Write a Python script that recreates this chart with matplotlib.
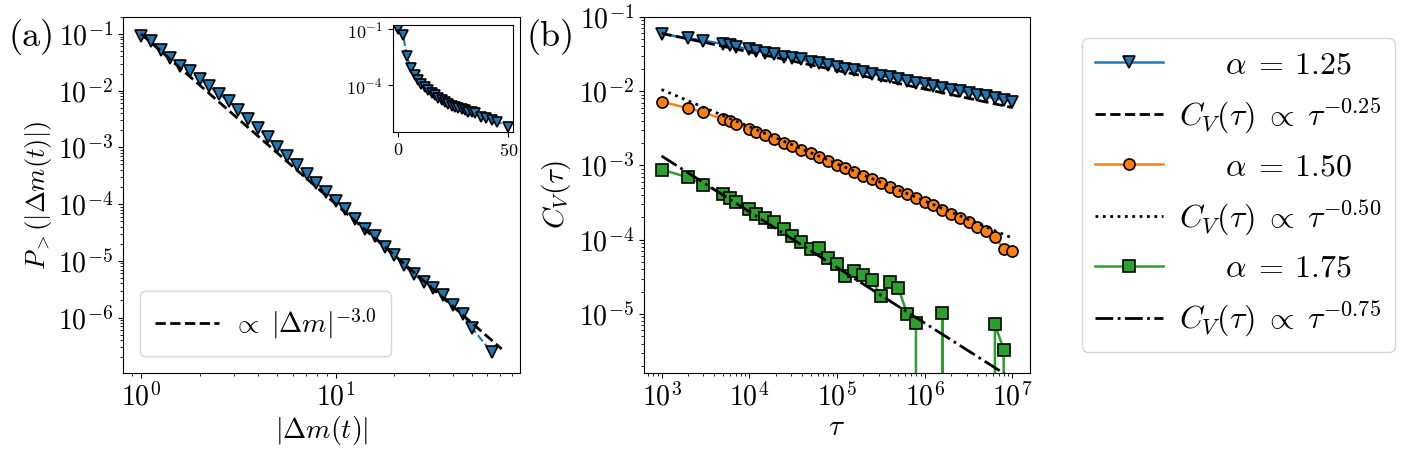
import numpy as np
import matplotlib
matplotlib.use('Agg')
import matplotlib.pyplot as plt
from matplotlib.ticker import LogLocator

plt.rcParams.update({
    'font.family': 'serif',
    'font.serif': ['cmr10'],
    'mathtext.fontset': 'cm',
    'axes.formatter.use_mathtext': True,
    'axes.unicode_minus': False,
})

# (a) tail distribution of |dm|
dm = [1.0, 1.12, 1.26, 1.41, 1.58, 1.78, 2.0, 2.24, 2.51, 2.82, 3.16, 3.55,
      3.98, 4.47, 5.01, 5.62, 6.31, 7.08, 7.94, 8.91, 10.0, 11.2, 12.6, 14.1,
      15.8, 17.8, 20.0, 22.4, 25.1, 28.2, 31.6, 35.5, 39.8, 44.7, 50.1, 63.1]
p_tail = [0.093, 0.0759, 0.0525, 0.038, 0.0275, 0.0219, 0.0162, 0.012,
          8.7e-3, 6.5e-3, 4.5e-3, 3.2e-3, 2.2e-3, 1.5e-3, 1.02e-3, 7.1e-4,
          4.9e-4, 3.4e-4, 2.4e-4, 1.62e-4, 1.15e-4, 8.1e-5, 5.5e-5, 3.7e-5,
          2.75e-5, 1.78e-5, 1.26e-5, 8.3e-6, 5.8e-6, 4.3e-6, 3.3e-6, 2.45e-6,
          1.66e-6, 1.17e-6, 6.5e-7, 2.45e-7]
fit_a_range = [1.0, 71.0]
fit_a_amp = 0.1
fit_a_exp = -3.0

# inset, linear x
ins_x = [0, 2.3, 4.1, 5.9, 7.6, 9.1, 10.6, 12.1, 13.6, 15.2, 16.7, 18.2, 19.7,
         21.2, 22.7, 24.3, 25.8, 27.3, 28.8, 30.3, 31.8, 33.4, 34.9, 37.6,
         39.7, 42.5, 45.0, 49.6]
ins_y = [0.1, 0.05, 3.6e-3, 7.9e-4, 3.5e-4, 1.9e-4, 1.2e-4, 7.9e-5, 5.5e-5,
         3.9e-5, 2.8e-5, 2.1e-5, 1.6e-5, 1.2e-5, 9.3e-6, 7.6e-6, 6.5e-6,
         5.6e-6, 4.9e-6, 4.4e-6, 3.8e-6, 3.4e-6, 3.0e-6, 2.0e-6, 1.66e-6,
         1.32e-6, 1.07e-6, 5.8e-7]

# (b) correlation functions
tau = [1000, 2000, 3000, 5000, 6000, 7000, 10000, 12000, 15000, 19000, 25000,
       31000, 39000, 50000, 63000, 79000, 100000, 125000, 158000, 199000,
       251000, 316000, 398000, 501000, 630000, 794000, 1000000, 1258000,
       1584000, 1995000, 2511000, 3162000, 3981000, 5011000, 6309000,
       7943000, 10000000]
cv_125 = [5.9e-2, 5.15e-2, 4.8e-2, 4.3e-2, 4.14e-2, 3.98e-2, 3.66e-2, 3.5e-2,
          3.3e-2, 3.16e-2, 2.91e-2, 2.79e-2, 2.68e-2, 2.49e-2, 2.36e-2,
          2.24e-2, 2.13e-2, 2.0e-2, 1.92e-2, 1.81e-2, 1.7e-2, 1.61e-2,
          1.53e-2, 1.44e-2, 1.36e-2, 1.3e-2, 1.24e-2, 1.17e-2, 1.11e-2,
          1.05e-2, 1.0e-2, 9.5e-3, 9.0e-3, 8.5e-3, 8.0e-3, 7.6e-3, 7.2e-3]
cv_150 = [7.2e-3, 5.9e-3, 5.2e-3, 4.2e-3, 3.9e-3, 3.65e-3, 3.1e-3, 2.84e-3,
          2.54e-3, 2.29e-3, 2.02e-3, 1.8e-3, 1.62e-3, 1.45e-3, 1.3e-3,
          1.16e-3, 1.02e-3, 9.1e-4, 8.2e-4, 7.3e-4, 6.5e-4, 5.8e-4, 5.2e-4,
          4.57e-4, 4.07e-4, 3.6e-4, 3.24e-4, 2.9e-4, 2.5e-4, 2.23e-4, 1.97e-4,
          1.74e-4, 1.47e-4, 1.3e-4, 1.09e-4, 7.6e-5, 7.1e-5]
# negative entries fall below the log axis
cv_175 = [8.8e-4, 6.9e-4, 5.5e-4, 4.1e-4, 3.6e-4, 3.2e-4, 2.55e-4, 2.2e-4,
          1.96e-4, 1.73e-4, 1.39e-4, 1.12e-4, 9.4e-5, 7.5e-5, 7.7e-5, 5.65e-5,
          4.75e-5, 3.26e-5, 3.77e-5, 3.3e-5, 2.88e-5, 1.73e-5, 2.73e-5,
          2.24e-5, 1.0e-5, 7.6e-6, -2e-6, -1e-6, 1.02e-5, -1e-6, -2e-6, -1e-6,
          -1e-6, -2e-6, 7.3e-6, 3.3e-6, -1e-6]
fit_amp = [6.0e-2, 1.05e-2, 1.34e-3]
fit_exp = [-0.25, -0.50, -0.75]
alpha_labels = ['1.25', '1.50', '1.75']


def decade_ticks(ax):
    for a in [ax.xaxis, ax.yaxis]:
        a.set_major_locator(LogLocator(base=10, numticks=20))
        a.set_minor_locator(LogLocator(base=10, subs=np.arange(2, 10), numticks=20))


fig = plt.figure(figsize=(14.16, 4.55), dpi=100)
ax1 = fig.add_axes([0.0869, 0.180, 0.2801, 0.783])
ax2 = fig.add_axes([0.4548, 0.180, 0.2726, 0.783])

# panel a
ax1.loglog(dm, p_tail, '--', color='#1f77b4', marker='v', ms=8,
           mec='black', mew=1.2, lw=1.5)
fa = np.array(fit_a_range)
ax1.loglog(fa, fit_a_amp * fa ** fit_a_exp, '--', color='black', lw=2,
           label=r'$\propto\; |\Delta m|^{-3.0}$')
ax1.set_ylim(1.05e-7, 2.0e-1)
decade_ticks(ax1)
ax1.set_xlabel(r'$|\Delta m(t)|$', fontsize=20, labelpad=2)
ax1.set_ylabel(r'$P_{>}(|\Delta m(t)|)$', fontsize=19, labelpad=3)
ax1.tick_params(labelsize=20)
ax1.legend(loc='lower left', fontsize=20, handlelength=2.3,
           handletextpad=0.5, borderaxespad=0.6, borderpad=0.55)

ins = fig.add_axes([0.2772, 0.7099, 0.0851, 0.235])
ins.plot(ins_x, ins_y, '--', color='#1f77b4', marker='v', ms=7.5,
         mec='black', mew=1.2, lw=1.5)
ins.set_yscale('log')
ins.set_ylim(3e-7, 1.7e-1)
ins.set_yticks([1e-1, 1e-4])
ins.minorticks_off()
ins.set_xticks([0, 50])
ins.tick_params(labelsize=13)

# panel b
colors = ['#1f77b4', '#ff7f0e', '#2ca02c']
markers = ['v', 'o', 's']
fit_styles = ['--', ':', '-.']
t = np.array(tau)
for i, cv in enumerate([cv_125, cv_150, cv_175]):
    ax2.plot(tau, cv, '-', color=colors[i], marker=markers[i], ms=8,
             mec='black', mew=1.2, lw=1.8,
             label=r'$\quad\;\:\,\alpha\:=\:%s$' % alpha_labels[i])
    ax2.plot(tau, fit_amp[i] * (t / 1e3) ** fit_exp[i], fit_styles[i],
             color='black', lw=2,
             label=r'$C_V(\tau)\;\propto\;\tau^{%.2f}$' % fit_exp[i])
ax2.set_xscale('log')
ax2.set_yscale('log')
ax2.set_ylim(1.6e-6, 1e-1)
decade_ticks(ax2)
ax2.set_xlabel(r'$\tau$', fontsize=21, labelpad=2)
ax2.set_ylabel(r'$C_V(\tau)$', fontsize=21)
ax2.tick_params(labelsize=20)
ax2.legend(loc='center left', bbox_to_anchor=(1082 / 1416, 0.571),
           bbox_transform=fig.transFigure, borderaxespad=0, fontsize=23,
           handlelength=2.15, handletextpad=0.5, labelspacing=0.53)

fig.text(0.006, 0.918, '(a)', fontsize=26, va='center')
fig.text(0.372, 0.918, '(b)', fontsize=26, va='center')

fig.savefig('out.png', dpi=100)
